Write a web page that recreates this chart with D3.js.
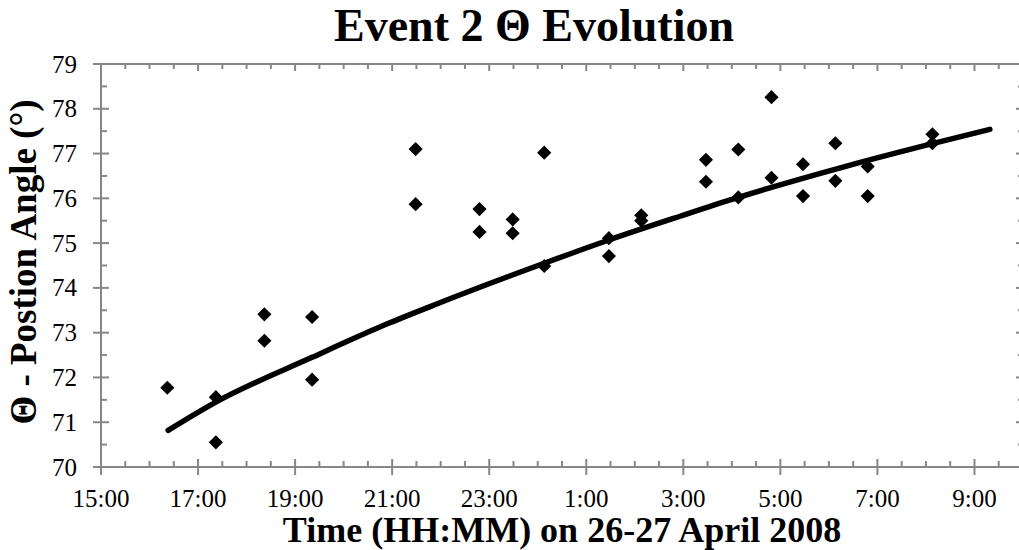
<!DOCTYPE html>
<html>
<head>
<meta charset="utf-8">
<script src="https://cdn.jsdelivr.net/npm/d3@7"></script>
<style>
  body { margin: 0; background: #fff; }
  svg { display: block; }
</style>
</head>
<body>
<div id="chart" style="width:1019px;height:550px;overflow:hidden"></div>
<script>
// --- data (local time, 26-27 April 2008)
const obsTimes = [
  '26 16:22', '26 17:22', '26 17:22', '26 18:22', '26 18:22', '26 19:21', '26 19:21',
  '26 21:29', '26 21:29', '26 22:48', '26 22:48', '26 23:29', '26 23:29',
  '27 00:08', '27 00:08', '27 01:28', '27 01:28', '27 02:08', '27 02:08',
  '27 03:28', '27 03:28', '27 04:08', '27 04:08', '27 04:49', '27 04:49',
  '27 05:28', '27 05:28', '27 06:08', '27 06:08', '27 06:48', '27 06:48',
  '27 08:08', '27 08:08'
];
const obsTheta = [
  71.77, 71.56, 70.55, 73.41, 72.82, 73.35, 71.95,
  77.10, 75.87, 75.76, 75.25, 75.53, 75.22,
  77.02, 74.49, 75.11, 74.71, 75.62, 75.50,
  76.86, 76.37, 77.09, 76.02, 78.26, 76.46,
  76.76, 76.05, 77.23, 76.39, 76.71, 76.05,
  77.43, 77.23
];

// trend line
const fitTimes = ['26 16:23', '26 17:22', '26 19:21', '26 20:57', '26 21:55', '27 00:08',
  '27 01:28', '27 02:56', '27 04:08', '27 06:22', '27 08:08', '27 09:19'];
const fitTheta = [70.82, 71.45, 72.45, 73.22, 73.64, 74.55, 75.07, 75.60, 76.02, 76.72, 77.22, 77.54];

const xTickLabels = ['15:00', '17:00', '19:00', '21:00', '23:00', '1:00', '3:00', '5:00', '7:00', '9:00'];
const yTicks = [70, 71, 72, 73, 74, 75, 76, 77, 78, 79];

// --- setup
const width = 1019;
const height = 550;
const margin = { top: 64, right: -4, bottom: 83, left: 101 };
const axisColor = '#878787';
const serif = '"Liberation Serif", "Times New Roman", serif';

const parse = d3.timeParse('%d %H:%M');
const toDate = (s) => {
  const d = parse(s);
  return new Date(2008, 3, d.getDate(), d.getHours(), d.getMinutes());
};

const points = obsTimes.map((t, i) => ({ t: toDate(t), v: obsTheta[i] }));
const fit = fitTimes.map((t, i) => ({ t: toDate(t), v: fitTheta[i] }));

// --- scales
const start = new Date(2008, 3, 26, 15);
const end = new Date(2008, 3, 27, 10);
const x = d3.scaleTime()
  .domain([start, end])
  .range([margin.left, width - margin.right]);

const y = d3.scaleLinear()
  .domain([70, 79])
  .range([height - margin.bottom, margin.top]);

// ticks every 2 h from 15:00, minor every 30 min
const majorX = xTickLabels.map((_, i) => d3.timeHour.offset(start, i * 2));
const minorX = d3.timeMinute.every(30).range(start, d3.timeMinute.offset(end, 1))
  .filter(d => (d - start) % (2 * 3600e3) !== 0);
const minorY = d3.range(70.5, 79, 1);

const svg = d3.select('#chart')
  .append('svg')
  .attr('width', width)
  .attr('height', height);

// --- frame
const x0 = x.range()[0], x1 = x.range()[1];
const y0 = y.range()[0], y1 = y.range()[1];
const frame = svg.append('g')
  .attr('stroke', axisColor)
  .attr('stroke-width', 2)
  .attr('fill', 'none');

frame.append('rect')
  .attr('x', x0).attr('y', y1)
  .attr('width', x1 - x0).attr('height', y0 - y1);

// bottom axis: major ticks cross, minor inside
frame.selectAll('.xmaj')
  .data(majorX)
  .join('line')
    .attr('x1', d => x(d)).attr('x2', d => x(d))
    .attr('y1', y0 - 8).attr('y2', y0 + 8);
frame.selectAll('.xmin')
  .data(minorX)
  .join('line')
    .attr('x1', d => x(d)).attr('x2', d => x(d))
    .attr('y1', y0 - 6).attr('y2', y0);
// top mirror ticks
frame.selectAll('.xmajt')
  .data(majorX)
  .join('line')
    .attr('x1', d => x(d)).attr('x2', d => x(d))
    .attr('y1', y1).attr('y2', y1 + 7);
frame.selectAll('.xmint')
  .data(minorX)
  .join('line')
    .attr('x1', d => x(d)).attr('x2', d => x(d))
    .attr('y1', y1).attr('y2', y1 + 5);

// left axis
frame.selectAll('.ymaj')
  .data(yTicks)
  .join('line')
    .attr('x1', x0 - 8).attr('x2', x0 + 8)
    .attr('y1', d => y(d)).attr('y2', d => y(d));
frame.selectAll('.ymin')
  .data(minorY)
  .join('line')
    .attr('x1', x0).attr('x2', x0 + 6)
    .attr('y1', d => y(d)).attr('y2', d => y(d));
// right mirror ticks
frame.selectAll('.ymajr')
  .data(yTicks)
  .join('line')
    .attr('x1', x1 - 7).attr('x2', x1)
    .attr('y1', d => y(d)).attr('y2', d => y(d));
frame.selectAll('.yminr')
  .data(minorY)
  .join('line')
    .attr('x1', x1 - 5).attr('x2', x1)
    .attr('y1', d => y(d)).attr('y2', d => y(d));

// --- tick labels
svg.append('g')
  .attr('font-family', serif)
  .attr('font-size', 25)
  .attr('fill', '#000')
  .attr('text-anchor', 'end')
  .selectAll('text')
  .data(yTicks)
  .join('text')
    .attr('x', x0 - 24)
    .attr('y', d => y(d) + 8.5)
    .text(d => d);

svg.append('g')
  .attr('font-family', serif)
  .attr('font-size', 25)
  .attr('fill', '#000')
  .attr('text-anchor', 'middle')
  .selectAll('text')
  .data(majorX)
  .join('text')
    .attr('x', d => x(d))
    .attr('y', y0 + 40)
    .text((d, i) => xTickLabels[i]);

// --- trend line
svg.append('path')
  .datum(fit)
  .attr('fill', 'none')
  .attr('stroke', '#000')
  .attr('stroke-width', 5.5)
  .attr('stroke-linecap', 'round')
  .attr('stroke-linejoin', 'round')
  .attr('d', d3.line().x(d => x(d.t)).y(d => y(d.v)).curve(d3.curveMonotoneX));

// --- diamonds
const diamond = d3.symbol().type(d3.symbolSquare).size(100);
svg.append('g')
  .selectAll('path')
  .data(points)
  .join('path')
    .attr('d', diamond)
    .attr('fill', '#000')
    .attr('transform', d => `translate(${x(d.t)},${y(d.v)}) rotate(45)`);

// --- titles
svg.append('text')
  .attr('x', 534)
  .attr('y', 41)
  .attr('text-anchor', 'middle')
  .attr('font-family', serif)
  .attr('font-weight', 'bold')
  .attr('font-size', 46)
  .text('Event 2 Θ Evolution');

svg.append('text')
  .attr('x', 562)
  .attr('y', 542)
  .attr('text-anchor', 'middle')
  .attr('font-family', serif)
  .attr('font-weight', 'bold')
  .attr('font-size', 36)
  .text('Time (HH:MM) on 26-27 April 2008');

svg.append('text')
  .attr('transform', 'translate(36,262) rotate(-90)')
  .attr('text-anchor', 'middle')
  .attr('font-family', serif)
  .attr('font-weight', 'bold')
  .attr('font-size', 37)
  .text('Θ - Postion Angle (°)');
</script>
</body>
</html>
